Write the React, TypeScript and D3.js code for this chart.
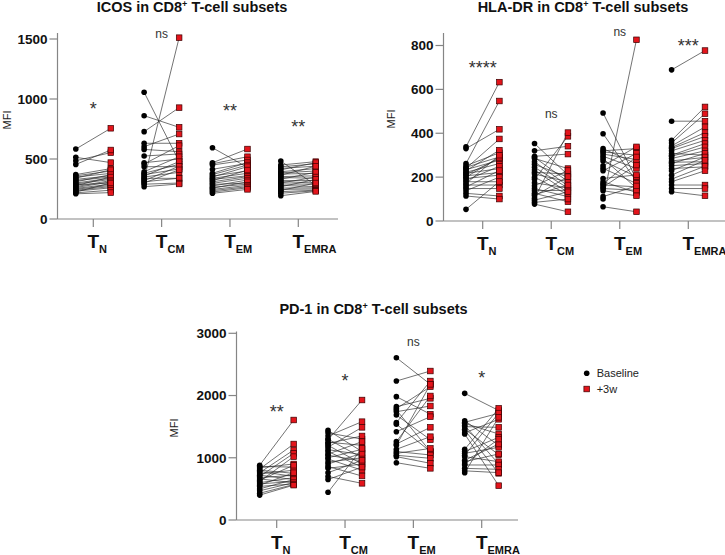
import React from "react";
import * as d3 from "d3";

const FONT = "'Liberation Sans', Arial, Helvetica, sans-serif";

const categories = ["N", "CM", "EM", "EMRA"];

// ICOS
const icosBaseline: number[][] = [
  [583, 514, 486, 455, 370, 360, 350, 340, 330, 320, 310, 300, 292, 285, 278, 270, 262, 255, 248, 240, 232, 225, 218, 210],
  [1056, 861, 728, 631, 603, 580, 525, 469, 458, 436, 394, 381, 370, 358, 350, 339, 330, 319, 310, 300, 290, 269],
  [594, 469, 460, 450, 414, 381, 370, 358, 350, 339, 330, 319, 310, 297, 288, 275, 265, 256, 246, 236, 225, 214],
  [483, 450, 435, 422, 410, 394, 385, 375, 365, 353, 345, 331, 320, 311, 300, 292, 280, 269, 258, 247, 238, 228, 215, 194],
];
const icosWeek3: number[][] = [
  [756, 470, 553, 575, 420, 400, 380, 410, 360, 350, 370, 340, 330, 300, 350, 320, 310, 290, 280, 270, 260, 300, 240, 220],
  [480, 764, 928, 631, 708, 561, 542, 500, 611, 436, 519, 456, 417, 478, 389, 339, 1511, 440, 340, 410, 300, 292],
  [430, 583, 519, 492, 464, 470, 450, 400, 436, 381, 360, 408, 353, 340, 300, 325, 290, 310, 280, 269, 260, 247],
  [280, 478, 460, 440, 470, 420, 400, 380, 440, 360, 340, 390, 320, 300, 350, 290, 270, 330, 260, 250, 300, 240, 235, 230],
];
const icosTicks = [0, 500, 1000, 1500];
const icosSig = ["*", "ns", "**", "**"];
const icosSigAt = [950, 1541, 933, 800];

// HLA-DR
const hlaBaseline: number[][] = [
  [338, 330, 262, 252, 245, 240, 234, 229, 222, 217, 212, 206, 200, 194, 185, 179, 170, 164, 155, 148, 138, 126, 114, 53],
  [353, 320, 295, 290, 285, 270, 258, 245, 232, 222, 214, 200, 190, 174, 160, 148, 138, 126, 120, 114, 103, 95, 85, 77],
  [492, 398, 330, 320, 315, 305, 295, 285, 274, 252, 240, 229, 194, 179, 170, 164, 155, 148, 138, 111, 100, 65],
  [689, 455, 368, 356, 342, 335, 330, 320, 308, 300, 295, 285, 274, 268, 262, 252, 239, 229, 209, 191, 179, 164, 148, 133],
];
const hlaWeek3: number[][] = [
  [633, 418, 547, 311, 292, 374, 277, 323, 262, 239, 285, 221, 290, 209, 250, 179, 300, 164, 230, 148, 200, 114, 100, 180],
  [210, 341, 305, 180, 239, 160, 200, 150, 130, 214, 179, 120, 386, 150, 230, 111, 140, 88, 164, 202, 403, 133, 100, 42],
  [190, 180, 260, 330, 300, 280, 240, 150, 202, 338, 171, 308, 210, 130, 292, 156, 255, 140, 115, 160, 826, 42],
  [777, 455, 520, 489, 429, 403, 386, 368, 300, 353, 338, 320, 290, 270, 308, 262, 247, 292, 277, 250, 229, 164, 148, 115],
];
const hlaTicks = [0, 200, 400, 600, 800];
const hlaSig = ["****", "ns", "ns", "***"];
const hlaSigAt = [714, 486, 859, 818];

// PD-1
const pd1Baseline: number[][] = [
  [880, 860, 840, 820, 800, 780, 760, 740, 720, 700, 680, 660, 640, 620, 600, 580, 560, 540, 500, 470, 430, 400],
  [1440, 1400, 1350, 1300, 1290, 1250, 1230, 1200, 1170, 1130, 1100, 1060, 1040, 1000, 980, 930, 900, 860, 830, 760, 700, 650, 445],
  [2608, 2233, 1982, 1821, 1790, 1768, 1740, 1687, 1564, 1540, 1419, 1259, 1221, 1200, 1136, 1100, 1071, 1040, 1018, 921],
  [2035, 1596, 1570, 1553, 1520, 1500, 1460, 1446, 1400, 1382, 1136, 1100, 1071, 1040, 1018, 960, 937, 900, 884, 830, 790, 760],
];
const pd1Week3: number[][] = [
  [1607, 850, 900, 1221, 750, 700, 1125, 800, 650, 1071, 720, 600, 880, 1018, 680, 620, 760, 580, 650, 600, 570, 560],
  [1100, 1300, 1580, 1000, 1928, 1200, 1350, 900, 1489, 1050, 850, 1259, 950, 1136, 800, 1000, 1071, 707, 900, 960, 589, 850, 1150],
  [2180, 2394, 1700, 1955, 2142, 1100, 1832, 1290, 2233, 1100, 1660, 1993, 1489, 2180, 1339, 1045, 1150, 991, 911, 830],
  [1760, 1200, 1714, 1382, 900, 1489, 1050, 750, 1618, 552, 1794, 1328, 1168, 1718, 937, 1221, 1061, 1300, 884, 814, 761, 1650],
];
const pd1Ticks = [0, 1000, 2000, 3000];
const pd1Sig = ["**", "*", "ns", "*"];
const pd1SigAt = [1800, 2298, 2849, 2346];

const legendLabels = ["Baseline", "+3w"];

const AXIS = "#858585";
const RED = "#e3141b";
const SQ = 5.6;
const DOT_R = 2.8;

type PanelProps = {
  title: string;
  titleX: number;
  titleY: number;
  axisX: number;
  axisEnd: number;
  axisTop: number;
  yBottom: number;
  yTopPix: number;
  ticks: number[];
  firstX: number;
  lastX: number;
  off: number;
  base: number[][];
  follow: number[][];
  sig: string[];
  sigAt: number[];
  mfiX: number;
  mfiY: number;
  catY: number;
};

function Panel(p: PanelProps) {
  const maxT = p.ticks[p.ticks.length - 1];
  const y = d3.scaleLinear().domain([0, maxT]).range([p.yBottom, p.yTopPix]);
  const x = d3.scalePoint<string>().domain(categories).range([p.firstX, p.lastX]);
  const titleParts = p.title.split("CD8");
  return (
    <g>
      <text x={p.titleX} y={p.titleY} textAnchor="middle" fontFamily={FONT} fontWeight="bold" fontSize={14.5} fill="#111">
        {titleParts[0]}CD8
        <tspan fontSize={9} dy={-5}>+</tspan>
        <tspan dy={5}>{titleParts[1]}</tspan>
      </text>
      <text
        transform={`translate(${p.mfiX},${p.mfiY}) rotate(-90)`}
        textAnchor="middle"
        dominantBaseline="central"
        fontFamily={FONT}
        fontSize={11}
        fill="#222"
      >
        MFI
      </text>
      <line x1={p.axisX} x2={p.axisX} y1={p.axisTop} y2={p.yBottom} stroke={AXIS} strokeWidth={1.2} />
      <line x1={p.axisX} x2={p.axisEnd} y1={p.yBottom} y2={p.yBottom} stroke={AXIS} strokeWidth={1.2} />
      {p.ticks.map((t) => (
        <g key={"yt" + t}>
          <line x1={p.axisX - 8} x2={p.axisX} y1={y(t)} y2={y(t)} stroke={AXIS} strokeWidth={1.2} />
          <text x={p.axisX - 10} y={y(t)} dy="0.36em" textAnchor="end" fontFamily={FONT} fontWeight="bold" fontSize={13.5} fill="#111">
            {t}
          </text>
        </g>
      ))}
      {categories.map((c) => (
        <g key={"xt" + c}>
          <line x1={x(c)!} x2={x(c)!} y1={p.yBottom} y2={p.yBottom + 8} stroke={AXIS} strokeWidth={1.2} />
          <text x={x(c)! - 5.8} y={p.catY} fontFamily={FONT} fontWeight="bold" fill="#111">
            <tspan fontSize={19}>T</tspan>
            <tspan fontSize={11} dy={5}>{c}</tspan>
          </text>
        </g>
      ))}
      {categories.map((c, gi) =>
        p.base[gi].map((b, i) => (
          <line
            key={`l${gi}-${i}`}
            x1={x(c)! - p.off}
            y1={y(b)}
            x2={x(c)! + p.off}
            y2={y(p.follow[gi][i])}
            stroke="#262626"
            strokeWidth={0.65}
          />
        ))
      )}
      {categories.map((c, gi) =>
        p.base[gi].map((b, i) => <circle key={`c${gi}-${i}`} cx={x(c)! - p.off} cy={y(b)} r={DOT_R} fill="#000" />)
      )}
      {categories.map((c, gi) =>
        p.follow[gi].map((f, i) => (
          <rect
            key={`r${gi}-${i}`}
            x={x(c)! + p.off - SQ / 2}
            y={y(f) - SQ / 2}
            width={SQ}
            height={SQ}
            fill={RED}
            stroke="#3a0000"
            strokeWidth={0.7}
          />
        ))
      )}
      {categories.map((c, gi) => {
        const s = p.sig[gi];
        const isNs = s === "ns";
        return (
          <text
            key={"s" + c}
            x={x(c)!}
            y={y(p.sigAt[gi]) + (isNs ? 3.5 : 10)}
            textAnchor="middle"
            fontFamily={FONT}
            fontSize={isNs ? 12 : 18}
            fill="#333"
          >
            {s}
          </text>
        );
      })}
    </g>
  );
}

export default function App() {
  return (
    <svg width={725} height={555} style={{ display: "block", position: "absolute", left: 0, top: 0, background: "#fff" }}>
      <rect x={0} y={0} width={725} height={555} fill="#fff" />
      <Panel
        title="ICOS in CD8 T-cell subsets"
        titleX={192}
        titleY={12}
        axisX={57.5}
        axisEnd={338}
        axisTop={33}
        yBottom={219}
        yTopPix={39}
        ticks={icosTicks}
        firstX={93.3}
        lastX={298.3}
        off={17.5}
        base={icosBaseline}
        follow={icosWeek3}
        sig={icosSig}
        sigAt={icosSigAt}
        mfiX={7}
        mfiY={120}
        catY={248}
      />
      <Panel
        title="HLA-DR in CD8 T-cell subsets"
        titleX={583}
        titleY={12}
        axisX={443.5}
        axisEnd={725}
        axisTop={33}
        yBottom={221}
        yTopPix={45.5}
        ticks={hlaTicks}
        firstX={482.7}
        lastX={688.3}
        off={16.7}
        base={hlaBaseline}
        follow={hlaWeek3}
        sig={hlaSig}
        sigAt={hlaSigAt}
        mfiX={391}
        mfiY={119}
        catY={250}
      />
      <Panel
        title="PD-1 in CD8 T-cell subsets"
        titleX={373.5}
        titleY={314}
        axisX={236.5}
        axisEnd={518}
        axisTop={331.5}
        yBottom={520}
        yTopPix={333.3}
        ticks={pd1Ticks}
        firstX={276.7}
        lastX={481.7}
        off={17}
        base={pd1Baseline}
        follow={pd1Week3}
        sig={pd1Sig}
        sigAt={pd1SigAt}
        mfiX={174}
        mfiY={428}
        catY={549}
      />
      <g fontFamily={FONT} fontSize={11} fill="#222">
        <circle cx={586.7} cy={373.3} r={DOT_R} fill="#000" />
        <text x={596.7} y={377.2}>{legendLabels[0]}</text>
        <rect x={586.7 - SQ / 2} y={389 - SQ / 2} width={SQ} height={SQ} fill={RED} stroke="#3a0000" strokeWidth={0.7} />
        <text x={596.7} y={393}>{legendLabels[1]}</text>
      </g>
    </svg>
  );
}
